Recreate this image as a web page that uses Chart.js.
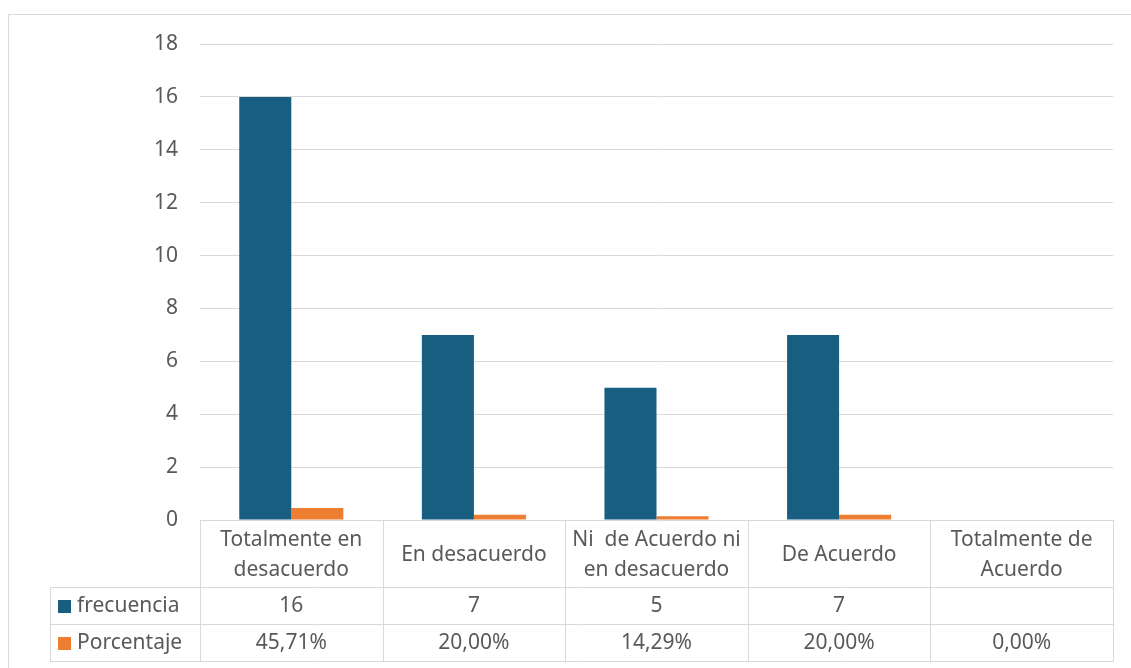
<!DOCTYPE html>
<html>
<head>
<meta charset="utf-8">
<script src="https://cdn.jsdelivr.net/npm/chart.js@4/dist/chart.umd.min.js"></script>
<style>
  body { margin: 0; background: #fff; }
  #wrap { width: 1131px; height: 668px; position: relative; }
</style>
</head>
<body>
<div id="wrap"><canvas id="barChart"></canvas></div>
<script>
// categories (each label split into lines for the table header)
var categorias = [
  ["Totalmente en", "desacuerdo"],
  ["En desacuerdo"],
  ["Ni  de Acuerdo ni", "en desacuerdo"],
  ["De Acuerdo"],
  ["Totalmente de", "Acuerdo"]
];
var frecuencia = [16, 7, 5, 7, null];
var porcentaje = [0.4571, 0.2000, 0.1429, 0.2000, 0.0000];
var frecuenciaTexto = ["16", "7", "5", "7", ""];
var porcentajeTexto = ["45,71%", "20,00%", "14,29%", "20,00%", "0,00%"];

var azul = '#175E80';
var naranja = '#ED7D31';
var gris = '#D9D9D9';
var texto = '#595959';
var fuente = '"Noto Sans", sans-serif';

// data table under the plot + outer frame
var tablaDatos = {
  id: 'tablaDatos',
  beforeDraw: function (chart) {
    var c = chart.ctx;
    c.save();
    c.strokeStyle = gris;
    c.lineWidth = 1;
    c.strokeRect(8.5, 14.5, 1140, 700);
    c.restore();
  },
  afterDraw: function (chart) {
    var c = chart.ctx;
    var area = chart.chartArea;
    var n = categorias.length;
    var w = (area.right - area.left) / n;
    var top = area.bottom;
    var row1 = top + 67, row2 = row1 + 37, row3 = row2 + 37;
    var legL = 50;
    var px = function (v) { return Math.round(v) + 0.5; };

    c.save();
    c.strokeStyle = gris;
    c.lineWidth = 1;
    c.beginPath();
    // horizontal lines
    [row1, row2, row3].forEach(function (y) {
      c.moveTo(legL, px(y)); c.lineTo(area.right, px(y));
    });
    // vertical lines
    for (var i = 0; i <= n; i++) {
      var x = px(area.left + i * w);
      c.moveTo(x, top); c.lineTo(x, px(row3));
    }
    c.moveTo(px(legL), px(row1)); c.lineTo(px(legL), px(row3));
    c.stroke();

    c.fillStyle = texto;
    c.font = '21px ' + fuente;
    c.textAlign = 'center';
    c.textBaseline = 'middle';
    var mid = (top + row1) / 2 + 2;
    categorias.forEach(function (lines, i) {
      var cx = area.left + (i + 0.5) * w;
      var start = mid - (lines.length - 1) * 15;
      lines.forEach(function (l, j) { c.fillText(l, cx, start + j * 30); });
      c.fillText(frecuenciaTexto[i], cx, (row1 + row2) / 2 + 1);
      c.fillText(porcentajeTexto[i], cx, (row2 + row3) / 2 + 1);
    });

    // legend keys
    var series = [
      { nombre: chart.data.datasets[0].label, color: azul, y: (row1 + row2) / 2 },
      { nombre: chart.data.datasets[1].label, color: naranja, y: (row2 + row3) / 2 }
    ];
    c.textAlign = 'left';
    series.forEach(function (s) {
      c.fillStyle = s.color;
      c.fillRect(58, Math.round(s.y) - 6, 13, 13);
      c.fillStyle = texto;
      c.fillText(s.nombre, 77, s.y + 1);
    });
    c.restore();
  }
};

var ctx = document.getElementById('barChart').getContext('2d');
var chart = new Chart(ctx, {
  type: 'bar',
  data: {
    labels: categorias,
    datasets: [
      { label: 'frecuencia', data: frecuencia, backgroundColor: azul },
      { label: 'Porcentaje', data: porcentaje, backgroundColor: naranja }
    ]
  },
  options: {
    responsive: true,
    maintainAspectRatio: false,
    animation: false,
    devicePixelRatio: 1,
    layout: { padding: { top: 44, right: 18, bottom: 148, left: 0 } },
    datasets: { bar: { categoryPercentage: 0.57, barPercentage: 1 } },
    plugins: { legend: { display: false }, tooltip: { enabled: false } },
    scales: {
      x: { display: false },
      y: {
        min: 0, max: 18,
        afterFit: function (s) { s.width = 200; },
        ticks: { stepSize: 2, padding: 22, color: texto, font: { size: 21, family: fuente } },
        grid: { color: gris, lineWidth: 1, drawTicks: false },
        border: { display: false }
      }
    }
  },
  plugins: [tablaDatos]
});
</script>
</body>
</html>
